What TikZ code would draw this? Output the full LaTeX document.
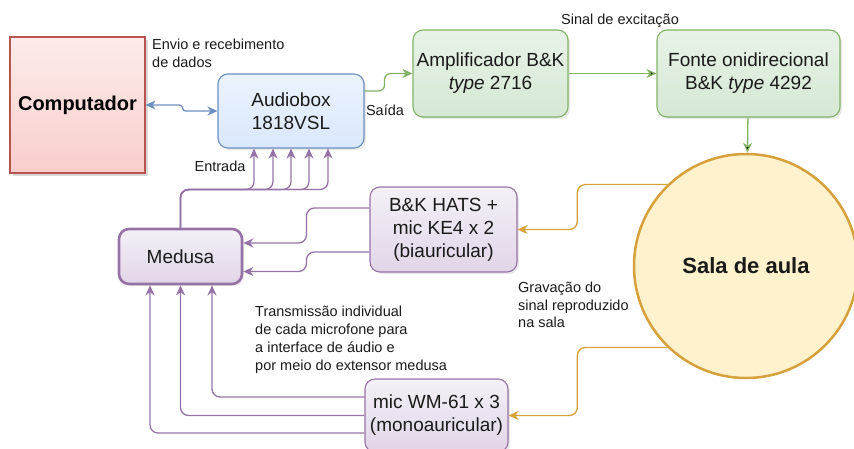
\documentclass[tikz,border=0pt]{standalone}
\usepackage{fontspec}
\setmainfont{Liberation Sans}
\usetikzlibrary{arrows.meta,shadows,positioning}

\definecolor{redfill}{HTML}{F8CECC}
\definecolor{redline}{HTML}{B85450}
\definecolor{bluefill}{HTML}{DAE8FC}
\definecolor{blueline}{HTML}{6C8EBF}
\definecolor{greenfill}{HTML}{D5E8D4}
\definecolor{greenline}{HTML}{82B366}
\definecolor{lilacfill}{HTML}{E1D5E7}
\definecolor{lilacline}{HTML}{9673A6}
\definecolor{sunfill}{HTML}{FFF2CC}
\definecolor{sunline}{HTML}{D6A03A}
\definecolor{inkgray}{HTML}{1A1A1A}

\begin{document}
\begin{tikzpicture}[x=1pt, y=-1pt, node distance=258pt,
  box/.style={draw, rounded corners=10pt, line width=1.1pt, align=center, text=inkgray,
    font=\fontsize{19}{23}\selectfont, inner sep=2pt,
    drop shadow={opacity=0.18, shadow xshift=2pt, shadow yshift=-2pt}},
  bluebox/.style={box, draw=blueline, top color=white!45!bluefill, bottom color=bluefill},
  greenbox/.style={box, draw=greenline, top color=white!45!greenfill, bottom color=greenfill,
    minimum height=87pt},
  lilacbox/.style={box, draw=lilacline, top color=white!65!lilacfill, bottom color=lilacfill},
  note/.style={align=left, inner sep=1pt, text=inkgray, font=\fontsize{14.5}{17.5}\selectfont},
  link/.style={rounded corners=8pt, line width=1.3pt, -{Stealth[length=10pt,width=9pt,inset=3pt]}},
  bluelink/.style={link, draw=blueline, rounded corners=3pt,
    {Stealth[length=10pt,width=9pt,inset=3pt]}-{Stealth[length=10pt,width=9pt,inset=3pt]}},
  greenlink/.style={link, draw=greenline},
  sunlink/.style={link, draw=sunline},
  lilaclink/.style={link, draw=lilacline}]
\useasboundingbox (0,0) rectangle (854,448);

\node[draw=redline, line width=1.1pt, top color=white!60!redfill, bottom color=redfill,
  minimum width=135pt, minimum height=136pt, font=\fontsize{20}{24}\selectfont\bfseries,
  drop shadow={opacity=0.3, shadow xshift=3pt, shadow yshift=-3pt}]
  (computador) at (77.5,105) {Computador};
\node[bluebox, minimum width=146pt, minimum height=74pt] (audiobox) at (291,111) {Audiobox\\1818VSL};
\node[greenbox, minimum width=155pt] (amp) at (490.5,73.5) {Amplificador B\&K\\\textit{type} 2716};
\node[greenbox, minimum width=183pt] (fonte) [right of = amp] {Fonte onidirecional\\B\&K \textit{type} 4292};
\node[circle, draw=sunline, fill=sunfill, line width=2.5pt, minimum size=224pt, text=inkgray,
  font=\fontsize{22}{26}\selectfont\bfseries] (sala) at (746,266) {Sala de aula};
\node[lilacbox, minimum width=147pt, minimum height=85pt] (hats) at (443.5,229.5) {B\&K HATS +\\mic KE4 x 2\\(biauricular)};
\node[lilacbox, line width=2.6pt, minimum width=123pt, minimum height=55pt] (medusa) at (180.5,256.5) {Medusa};
\node[lilacbox, minimum width=143pt, minimum height=73pt] (mic) at (436.5,415.5) {mic WM-61 x 3\\(monoauricular)};

\node[note, anchor=north west] (envio) at (151,38) {Envio e recebimento\\de dados};
\node[note] (saida) at (385,110) {Saída};
\node[note] (sinal) at (620,21) {Sinal de excitação};
\node[note] (entrada) at (220,166) {Entrada};
\node[note, anchor=north west, font=\fontsize{14.5}{18}\selectfont] (transmissao) at (254,305)
  {Transmissão individual\\de cada microfone para\\a interface de áudio e\\por meio do extensor medusa};
\node[note, anchor=north west] (gravacao) at (517,281) {Gravação do\\sinal reproduzido\\na sala};

\draw[bluelink] (computador.east) -- ++(37,0) |- (audiobox.west);
\draw[greenlink, rounded corners=6pt] ([yshift=20pt]audiobox.east) -- ++(20,0) |- (amp.west);
\path[greenlink] (amp) edge (fonte)
  (fonte) edge (sala);
\draw[sunlink] (sala.134) -- ++(-90,0) |- (hats.east);
\draw[sunlink] (sala.226) -- ++(-90,0) |- (mic.east);
\draw[lilaclink] ([yshift=21.5pt]hats.west) -- ++(-63,0) |- ([yshift=13.5pt]medusa.east);
\draw[lilaclink] ([yshift=-22.5pt]hats.west) -- ++(-63,0) |- ([yshift=-15pt]medusa.east);
\foreach \dx in {-37,-18,0,18,37}
  \draw[lilaclink] (medusa.north) |- ([xshift=\dx pt, yshift=-41pt]audiobox.south) -- ([xshift=\dx pt]audiobox.south);
\foreach \dy/\dx in {18.5/31.5, 0/0, -17.5/-30.5}
  \draw[lilaclink] ([yshift=\dy pt]mic.west) -| ([xshift=\dx pt]medusa.south);
\end{tikzpicture}
\end{document}
